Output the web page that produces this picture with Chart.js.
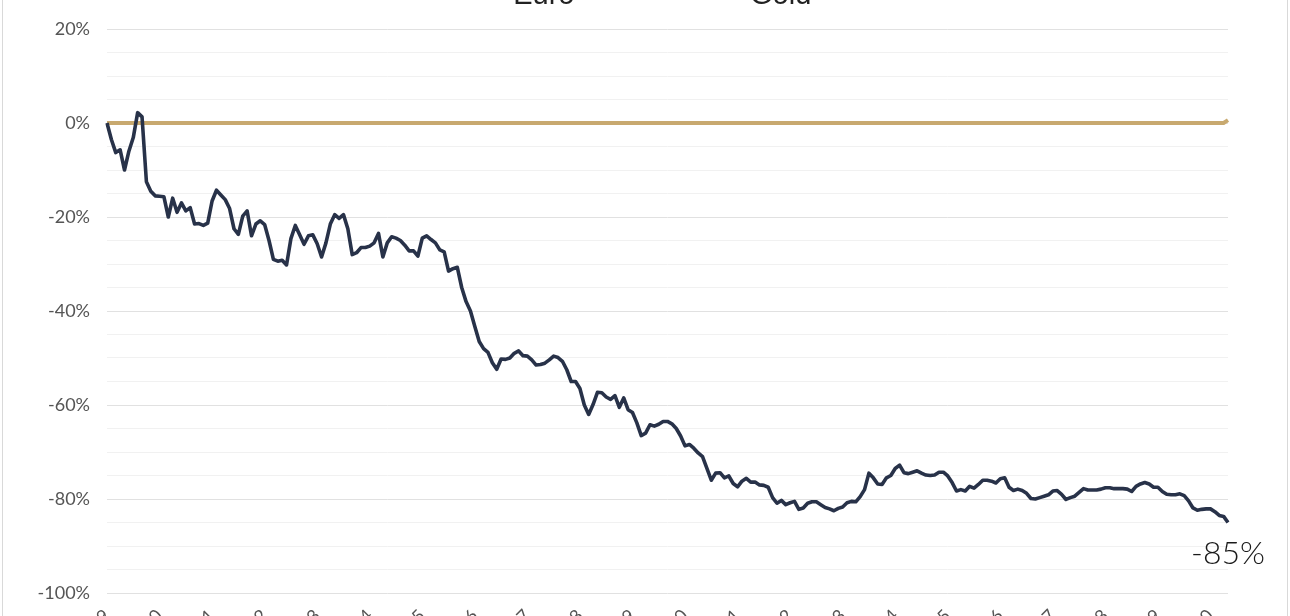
<!DOCTYPE html>
<html>
<head>
<meta charset="utf-8">
<script src="https://cdn.jsdelivr.net/npm/chart.js@4"></script>
<style>
  html, body { margin: 0; padding: 0; background: #fff; overflow: hidden; }
  #frame { position: absolute; left: 2px; top: 0; width: 1284px; height: 616px;
           border-left: 1px solid #d9d9d9; border-right: 1px solid #d9d9d9; }
  #wrap { position: absolute; left: 0; top: -98px; width: 1290px; height: 771px; }
</style>
</head>
<body>
<div id="frame"></div>
<div id="wrap"><canvas id="chart"></canvas></div>
<script>
// monthly, Jan 1999 .. May 2020, change vs. start in %
const startYear = 1999;

const euro = [
  0, -3.5, -6.3, -5.7, -10, -6, -3.1, 2.2, 1.3, -12.5, -14.5, -15.5,
  -15.6, -15.7, -20, -16, -19, -17, -18.7, -18, -21.5, -21.4, -21.8, -21.3,
  -16.6, -14.3, -15.3, -16.3, -18.2, -22.5, -23.7, -19.8, -18.7, -24, -21.5, -20.8,
  -21.6, -25, -29, -29.4, -29.2, -30.2, -24.6, -21.8, -23.8, -25.8, -24, -23.8,
  -25.7, -28.5, -25.5, -21.5, -19.5, -20.3, -19.5, -22.5, -28, -27.6, -26.5, -26.5,
  -26.2, -25.5, -23.5, -28.5, -25.5, -24.2, -24.5, -25, -26, -27.2, -27.2, -28.3,
  -24.5, -24, -24.8, -25.5, -27, -27.4, -31.5, -31, -30.7, -35, -38, -40,
  -43.3, -46.5, -48, -48.8, -51, -52.4, -50.2, -50.3, -50, -49, -48.5, -49.5,
  -49.6, -50.4, -51.5, -51.4, -51.1, -50.4, -49.6, -49.9, -50.7, -52.5, -55, -55,
  -56.5, -60, -62, -59.9, -57.3, -57.4, -58.3, -58.8, -58, -60.5, -58.5, -61,
  -61.6, -63.8, -66.5, -66, -64.2, -64.5, -64.1, -63.5, -63.5, -64, -65, -66.6,
  -68.7, -68.4, -69.2, -70.2, -71, -73.5, -76, -74.5, -74.4, -75.5, -75.1, -76.7,
  -77.4, -76.2, -75.6, -76.4, -76.4, -77, -77.1, -77.5, -79.7, -80.9, -80.3, -81.2,
  -80.8, -80.5, -82.2, -81.9, -80.9, -80.6, -80.6, -81.2, -81.8, -82.1, -82.5, -82,
  -81.7, -80.8, -80.5, -80.6, -79.5, -78, -74.5, -75.5, -76.8, -76.9, -75.5, -75,
  -73.5, -72.8, -74.4, -74.6, -74.3, -74, -74.5, -74.9, -75, -74.9, -74.3, -74.3,
  -75.1, -76.5, -78.3, -78, -78.3, -77.3, -77.7, -76.9, -76, -76, -76.2, -76.6,
  -75.7, -75.5, -77.5, -78.2, -77.9, -78.2, -78.8, -79.9, -80, -79.7, -79.4, -79.1,
  -78.3, -78.2, -79, -80.1, -79.7, -79.4, -78.6, -77.8, -78.1, -78.1, -78.1, -77.9,
  -77.6, -77.6, -77.8, -77.8, -77.8, -77.9, -78.4, -77.3, -76.8, -76.5, -76.8, -77.5,
  -77.5, -78.4, -79, -79.1, -79.1, -78.9, -79.3, -80.4, -81.9, -82.4, -82.2, -82.1,
  -82.1, -82.7, -83.5, -83.7, -85
];

const gold = [
  0, 0, 0, 0, 0, 0, 0, 0, 0, 0, 0, 0,
  0, 0, 0, 0, 0, 0, 0, 0, 0, 0, 0, 0,
  0, 0, 0, 0, 0, 0, 0, 0, 0, 0, 0, 0,
  0, 0, 0, 0, 0, 0, 0, 0, 0, 0, 0, 0,
  0, 0, 0, 0, 0, 0, 0, 0, 0, 0, 0, 0,
  0, 0, 0, 0, 0, 0, 0, 0, 0, 0, 0, 0,
  0, 0, 0, 0, 0, 0, 0, 0, 0, 0, 0, 0,
  0, 0, 0, 0, 0, 0, 0, 0, 0, 0, 0, 0,
  0, 0, 0, 0, 0, 0, 0, 0, 0, 0, 0, 0,
  0, 0, 0, 0, 0, 0, 0, 0, 0, 0, 0, 0,
  0, 0, 0, 0, 0, 0, 0, 0, 0, 0, 0, 0,
  0, 0, 0, 0, 0, 0, 0, 0, 0, 0, 0, 0,
  0, 0, 0, 0, 0, 0, 0, 0, 0, 0, 0, 0,
  0, 0, 0, 0, 0, 0, 0, 0, 0, 0, 0, 0,
  0, 0, 0, 0, 0, 0, 0, 0, 0, 0, 0, 0,
  0, 0, 0, 0, 0, 0, 0, 0, 0, 0, 0, 0,
  0, 0, 0, 0, 0, 0, 0, 0, 0, 0, 0, 0,
  0, 0, 0, 0, 0, 0, 0, 0, 0, 0, 0, 0,
  0, 0, 0, 0, 0, 0, 0, 0, 0, 0, 0, 0,
  0, 0, 0, 0, 0, 0, 0, 0, 0, 0, 0, 0,
  0, 0, 0, 0, 0, 0, 0, 0, 0, 0, 0, 0,
  0, 0, 0, 0, 0.6
];

const yTicks = [20, 0, -20, -40, -60, -80, -100];

// month labels, "1999-01" ...
const months = euro.map((_, i) => {
  const y = startYear + Math.floor(i / 12);
  const m = (i % 12) + 1;
  return y + "-" + (m < 10 ? "0" + m : m);
});

const endLabel = {
  id: "endLabel",
  afterDatasetsDraw(chart) {
    const meta = chart.getDatasetMeta(0);
    const pt = meta.data[meta.data.length - 1];
    const v = euro[euro.length - 1];
    const ctx = chart.ctx;
    ctx.save();
    ctx.font = "300 32px Lato";
    ctx.fillStyle = "#1a1a1a";
    ctx.textAlign = "center";
    ctx.textBaseline = "middle";
    ctx.fillText(Math.round(v) + "%", pt.x, pt.y + 31);
    ctx.restore();
  }
};

const ctx = document.getElementById("chart").getContext("2d");
new Chart(ctx, {
  type: "line",
  data: {
    labels: months,
    datasets: [
      {
        label: "Euro",
        data: euro,
        borderColor: "#283249",
        backgroundColor: "#283249",
        borderWidth: 3.6,
        pointRadius: 0,
        tension: 0,
        borderJoinStyle: "round",
      },
      {
        label: "Gold",
        data: gold,
        borderColor: "#c8a96f",
        backgroundColor: "#c8a96f",
        borderWidth: 4,
        pointRadius: 0,
        tension: 0,
      },
    ],
  },
  options: {
    responsive: true,
    maintainAspectRatio: false,
    animation: false,
    devicePixelRatio: 1,
    layout: { padding: { left: 0, right: 62, top: 0, bottom: 0 } },
    plugins: {
      legend: {
        position: "top",
        labels: {
          color: "#222",
          font: { family: "Liberation Sans", size: 29 },
          boxWidth: 82,
          boxHeight: 4,
          padding: 79,
        },
      },
      // spacer between legend and plot
      subtitle: {
        display: true,
        text: "",
        weight: 500,
        font: { size: 1, lineHeight: 1 },
        padding: { top: 0, bottom: 8 },
      },
      tooltip: { enabled: false },
    },
    scales: {
      x: {
        grid: { display: false, drawTicks: false },
        border: { display: false },
        ticks: {
          autoSkip: false,
          minRotation: 45,
          maxRotation: 45,
          padding: 12,
          color: "#555",
          font: { family: "Lato", size: 18 },
          callback: function (val, i) {
            const lab = months[i];
            return lab.endsWith("-01") ? lab.slice(0, 4) : "";
          },
        },
        afterFit: (s) => { s.height = 80; },
      },
      y: {
        min: -100,
        max: 20,
        grid: {
          drawTicks: false,
          color: (c) => (yTicks.includes(c.tick.value) ? "#e1e1e1" : "#f1f1f1"),
          lineWidth: 1,
        },
        border: { display: false },
        ticks: {
          stepSize: 5,
          maxTicksLimit: 30,
          autoSkip: false,
          padding: 17,
          color: "#555",
          font: { family: "Lato", size: 18 },
          callback: (v) => (yTicks.includes(v) ? v + "%" : ""),
        },
        afterFit: (s) => { s.width = 107; },
      },
    },
  },
  plugins: [endLabel],
});
</script>
</body>
</html>
